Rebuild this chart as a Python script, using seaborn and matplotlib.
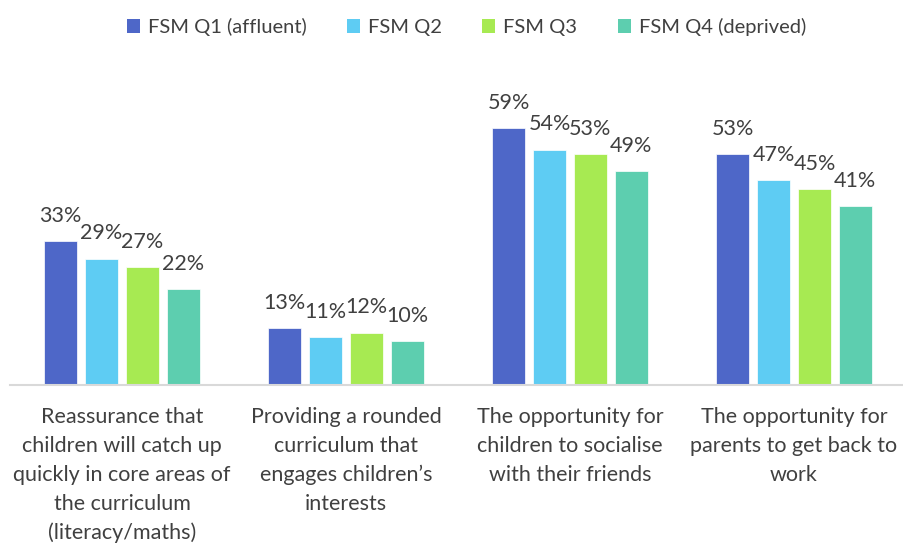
import matplotlib
matplotlib.use("Agg")
import matplotlib.pyplot as plt
import seaborn as sns
import pandas as pd
from matplotlib.patches import Patch

categories = [
    "Reassurance that\nchildren will catch up\nquickly in core areas of\nthe curriculum\n(literacy/maths)",
    "Providing a rounded\ncurriculum that\nengages children\u2019s\ninterests",
    "The opportunity for\nchildren to socialise\nwith their friends",
    "The opportunity for\nparents to get back to\nwork",
]
series = ["FSM Q1 (affluent)", "FSM Q2", "FSM Q3", "FSM Q4 (deprived)"]
q1 = [33, 13, 59, 53]
q2 = [29, 11, 54, 47]
q3 = [27, 12, 53, 45]
q4 = [22, 10, 49, 41]
colors = ["#4E67C8", "#5ECCF3", "#A7EA52", "#5DCEAF"]

rows = []
for s, vals in zip(series, [q1, q2, q3, q4]):
    for c, v in zip(categories, vals):
        rows.append({"cat": c, "series": s, "value": v})
df = pd.DataFrame(rows)

sns.set_theme(style="white")
plt.rcParams["font.family"] = ["Lato", "DejaVu Sans"]
text_color = "#404040"

fig = plt.figure(figsize=(9.04, 5.44), dpi=100)
ax = fig.add_axes([10 / 904, 159 / 544, 896 / 904, 305 / 544])
sns.barplot(data=df, x="cat", y="value", hue="series", order=categories,
            hue_order=series, palette=colors, saturation=1, width=0.73, gap=0.2,
            ax=ax, legend=False, edgecolor="white", linewidth=0.5)
ax.set_xlim(-0.5, 3.5)
ax.set_ylim(0, 70)
ax.set_xlabel("")
ax.set_ylabel("")
ax.set_yticks([])
for sp in ["top", "right", "left"]:
    ax.spines[sp].set_visible(False)
ax.spines["bottom"].set_color("#D9D9D9")
ax.spines["bottom"].set_linewidth(1.5)
ax.tick_params(axis="x", length=0, pad=16, labelsize=15.5, labelcolor=text_color)
for lab in ax.get_xticklabels():
    lab.set_linespacing(1.55)
    lab.set_clip_on(False)

for cont in ax.containers:
    ax.bar_label(cont, labels=[f"{int(v)}%" for v in cont.datavalues],
                 padding=11, fontsize=15.5, color=text_color)

handles = [Patch(facecolor=c, edgecolor="none") for c in colors]
fig.legend(handles, series, loc="upper center", bbox_to_anchor=(0.516, 1.0),
           ncol=4, frameon=False, fontsize=14.5, labelcolor=text_color,
           handlelength=0.65, handleheight=0.65, handletextpad=0.4,
           columnspacing=2.0, borderaxespad=0.5)

fig.savefig("out.png", dpi=100)
